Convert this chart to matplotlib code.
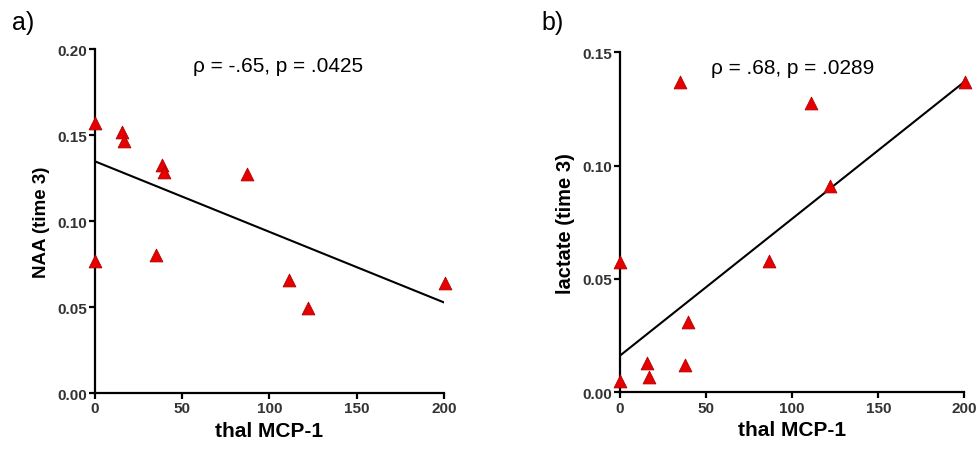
import numpy as np
import matplotlib.pyplot as plt

plt.rcParams['font.family'] = ['Liberation Sans', 'DejaVu Sans']

# panel a: thal MCP-1 vs NAA (time 3)
mcp_a = [0, 0, 15.7, 16.6, 38.2, 39.7, 35.0, 87.3, 111.4, 122.4, 200.6]
naa = [0.157, 0.077, 0.1516, 0.1467, 0.1327, 0.1283, 0.0802, 0.1273, 0.0659, 0.0494, 0.0638]
fit_a_x = [0, 200]
fit_a_y = [0.1347, 0.0527]

# panel b: thal MCP-1 vs lactate (time 3)
mcp_b = [34.9, 110.8, 200.6, 121.7, 86.8, 0, 39.7, 37.8, 15.5, 16.7, 0]
lactate = [0.137, 0.1275, 0.137, 0.0912, 0.0581, 0.0573, 0.0312, 0.0121, 0.0128, 0.0069, 0.0051]
fit_b_x = [0, 200]
fit_b_y = [0.0162, 0.137]

fig = plt.figure(figsize=(9.8, 4.52), dpi=100)
ax1 = fig.add_axes([0.0969, 0.1283, 0.356, 0.761])
ax2 = fig.add_axes([0.6327, 0.1299, 0.3513, 0.752])


def style(ax, yticks, ylabel, ylabel_size):
    ax.spines['top'].set_visible(False)
    ax.spines['right'].set_visible(False)
    for s in ['left', 'bottom']:
        ax.spines[s].set_linewidth(1.6)
    ax.set_xlim(0, 200)
    ax.set_xticks([0, 50, 100, 150, 200])
    ax.set_yticks(yticks)
    ax.set_ylim(yticks[0], yticks[-1])
    ax.yaxis.set_major_formatter(plt.FormatStrFormatter('%.2f'))
    ax.tick_params(direction='out', length=4, width=1.6, labelsize=11,
                   labelcolor='#333333', pad=2)
    for lab in ax.get_xticklabels() + ax.get_yticklabels():
        lab.set_fontweight('bold')
    ax.set_xlabel('thal MCP-1', fontsize=15, fontweight='bold', labelpad=4)
    ax.set_ylabel(ylabel, fontsize=ylabel_size, fontweight='bold', labelpad=5)


style(ax1, [0, 0.05, 0.10, 0.15, 0.20], 'NAA (time 3)', 13.5)
ax1.plot(fit_a_x, fit_a_y, color='black', lw=1.5)
ax1.scatter(mcp_a, naa, marker='^', s=85, color='#e60000', edgecolor='#b00000',
            linewidth=0.6, zorder=3, clip_on=False)
ax1.text(105, 0.1907, 'ρ = -.65, p = .0425', ha='center', va='center', fontsize=15)

style(ax2, [0, 0.05, 0.10, 0.15], 'lactate (time 3)', 14.5)
ax2.plot(fit_b_x, fit_b_y, color='black', lw=1.5)
ax2.scatter(mcp_b, lactate, marker='^', s=85, color='#e60000', edgecolor='#b00000',
            linewidth=0.6, zorder=3, clip_on=False)
ax2.text(100, 0.1434, 'ρ = .68, p = .0289', ha='center', va='center', fontsize=15)

fig.text(0.012, 0.95, 'a)', fontsize=18, va='center')
fig.text(0.553, 0.95, 'b)', fontsize=18, va='center')

fig.savefig('out.png', dpi=100)
